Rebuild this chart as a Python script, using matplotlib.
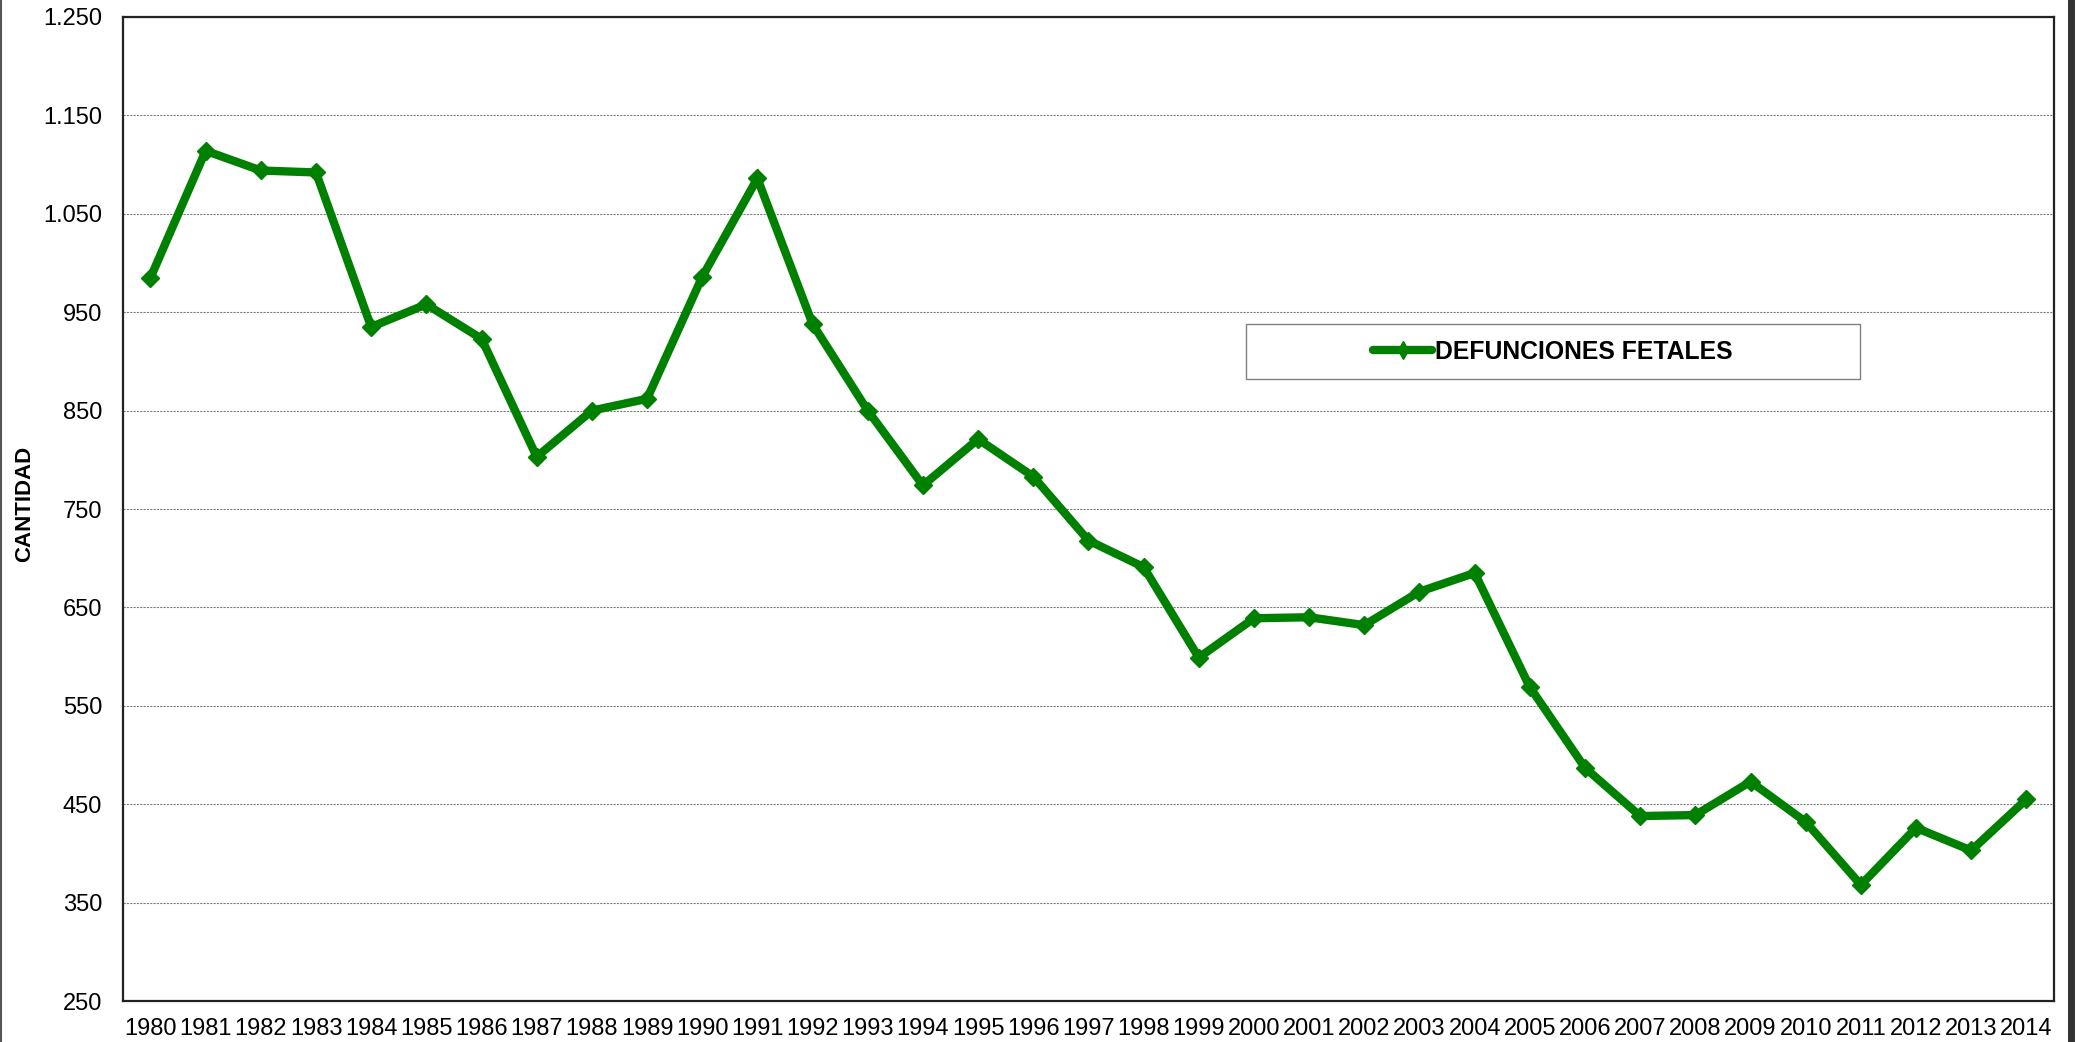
import matplotlib
matplotlib.use("Agg")
from matplotlib import pyplot as plt
from matplotlib.lines import Line2D
from matplotlib.patches import Rectangle

years = [str(y) for y in range(1980, 2015)]
defunciones = [985, 1114, 1094, 1092, 935, 958, 923, 803, 850, 862,
               986, 1086, 938, 850, 774, 821, 783, 718, 691, 599,
               639, 640, 632, 666, 685, 569, 487, 438, 439, 473,
               432, 368, 426, 403, 455]
yticks = list(range(250, 1251, 100))
ytick_labels = ['{:,}'.format(v).replace(',', '.') for v in yticks]

green = '#008000'
plt.rcParams['font.family'] = ['Liberation Sans', 'DejaVu Sans']

fig = plt.figure(figsize=(20.76, 10.42), dpi=100)
ax = fig.add_axes([0.0592, 0.0393, 0.9302, 0.9444])

x = list(range(len(years)))
ax.plot(x, defunciones, color=green, linewidth=6, marker='D',
        markersize=9, markerfacecolor=green, markeredgecolor=green,
        solid_joinstyle='miter')

ax.set_xlim(-0.5, len(years) - 0.5)
ax.set_ylim(250, 1250)
ax.set_xticks(x)
ax.set_xticklabels(years)
ax.set_yticks(yticks)
ax.set_yticklabels(ytick_labels)
ax.tick_params(axis='both', length=0, labelsize=17)
ax.tick_params(axis='y', pad=15)
ax.tick_params(axis='x', pad=12)

ax.grid(axis='y', color='#808080', linestyle=(0, (2, 1)), linewidth=0.8)
ax.set_axisbelow(True)
for s in ax.spines.values():
    s.set_linewidth(1.6)
    s.set_color('#222222')

fig.text(0.012, 0.516, 'CANTIDAD', rotation=90, fontsize=16,
         fontweight='bold', ha='center', va='center')

# legend box
ax.add_patch(Rectangle((0.5816, 0.632), 0.3179, 0.056, transform=ax.transAxes,
                       facecolor='white', edgecolor='#808080', linewidth=1,
                       zorder=5))
handle = Line2D([], [], color=green, linewidth=6, marker='d',
                markersize=9, markerfacecolor=green, markeredgecolor=green,
                solid_capstyle='round')
leg = ax.legend([handle], ['DEFUNCIONES FETALES'], loc='center',
                bbox_to_anchor=(0.7405, 0.660), frameon=False,
                prop={'weight': 'bold', 'size': 17.8}, handlelength=2.4,
                handletextpad=0.1)
leg.set_zorder(6)

# outer figure border lines
fig.add_artist(Line2D([0.0007, 0.0007], [0, 1], transform=fig.transFigure,
                      color='#555555', linewidth=1.5))
fig.add_artist(Line2D([0.9978, 0.9978], [0, 1], transform=fig.transFigure,
                      color='#333333', linewidth=5))

fig.savefig('out.png', dpi=100)
